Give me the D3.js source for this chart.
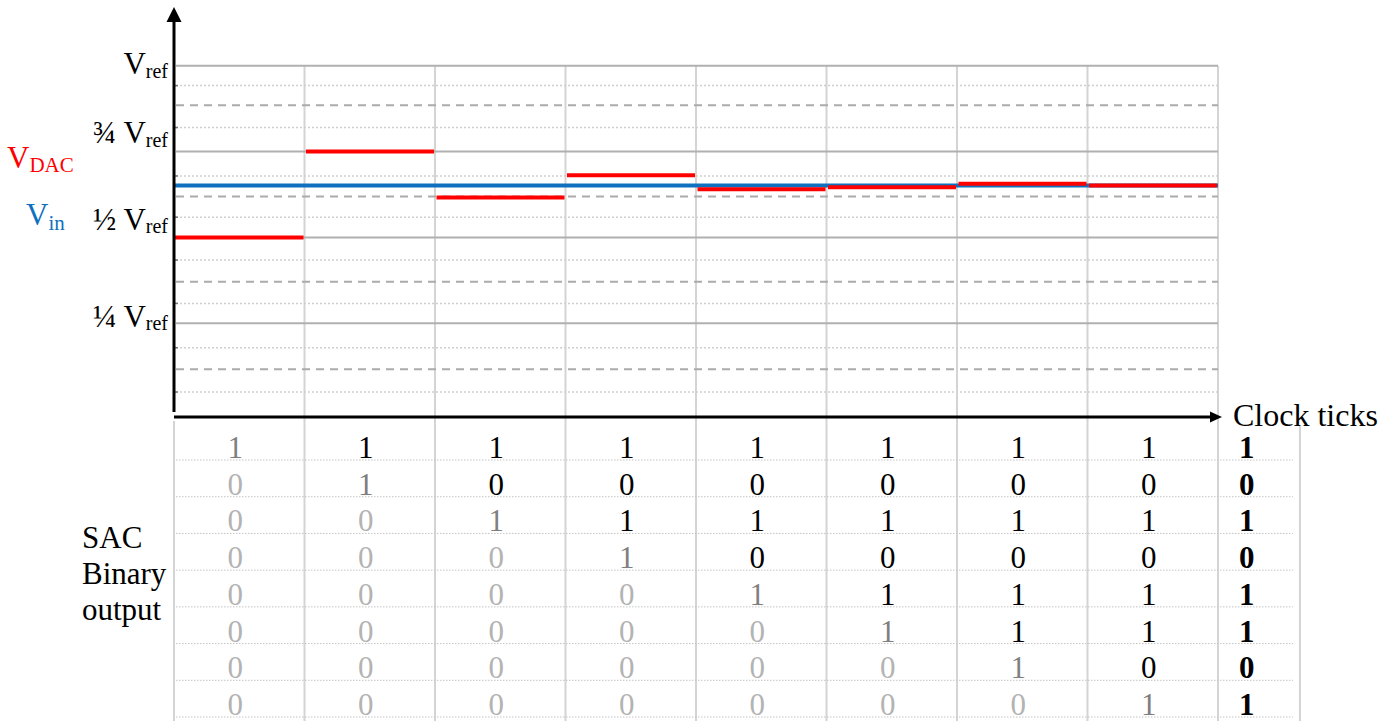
<!DOCTYPE html>
<html>
<head>
<meta charset="utf-8">
<script src="https://cdn.jsdelivr.net/npm/d3@7"></script>
<style>
  html, body { margin: 0; padding: 0; background: #fff; }
  svg { display: block; font-family: "Liberation Serif", "Times New Roman", serif; }
</style>
</head>
<body>
<svg id="chart" width="1388" height="721"></svg>
<script>
// ---------- data ----------
const clockTicks = [1, 2, 3, 4, 5, 6, 7, 8];
const vinLevel = 0.651;                       // V_in (fraction of Vref)
const vdacLevels = [0.5, 0.75, 0.616, 0.681, 0.640, 0.646, 0.656, 0.651]; // V_DAC per clock tick
const majorLevels = [1, 0.75, 0.5, 0.25];
const majorFractions = ["", "\u00BE ", "\u00BD ", "\u00BC "];
const dashedLevels = [0.885, 0.619, 0.371, 0.116];
const dottedLevels = [0.942, 0.820, 0.679, 0.559, 0.434, 0.308, 0.179, 0.050];
// bits shown after each clock tick (MSB first)
const bitsCol1 = [1, 0, 0, 0, 0, 0, 0, 0];
const bitsCol2 = [1, 1, 0, 0, 0, 0, 0, 0];
const bitsCol3 = [1, 0, 1, 0, 0, 0, 0, 0];
const bitsCol4 = [1, 0, 1, 1, 0, 0, 0, 0];
const bitsCol5 = [1, 0, 1, 0, 1, 0, 0, 0];
const bitsCol6 = [1, 0, 1, 0, 1, 1, 0, 0];
const bitsCol7 = [1, 0, 1, 0, 1, 1, 1, 0];
const bitsCol8 = [1, 0, 1, 0, 1, 1, 0, 1];
const finalBits = [1, 0, 1, 0, 1, 1, 0, 1];
const bitColumns = [bitsCol1, bitsCol2, bitsCol3, bitsCol4, bitsCol5, bitsCol6, bitsCol7, bitsCol8];
const bitRows = [1, 2, 3, 4, 5, 6, 7, 8];

// ---------- layout ----------
const svg = d3.select("#chart");
const x = d3.scaleLinear().domain([0, 8]).range([174, 1218]);
const y = d3.scaleLinear().domain([0, 1]).range([409.2, 65.7]);
const rowY = d3.scaleLinear().domain([1, 8]).range([460, 717]);
const labelDy = [8.3, -8.3, -7.5, 3.4];

const RED = "#FF0000", BLUE = "#0F70C0";
const FONT = 31, SUB = 20;

// ---------- vertical grid ----------
const g = svg.append("g");
g.selectAll(".vgrid").data(clockTicks).join("line")
  .attr("x1", d => x(d)).attr("x2", d => x(d))
  .attr("y1", y(1)).attr("y2", 721)
  .attr("stroke", "#d4d4d4").attr("stroke-width", 2);
g.append("line").attr("x1", x(0)).attr("x2", x(0)).attr("y1", 421).attr("y2", 721)
  .attr("stroke", "#d4d4d4").attr("stroke-width", 2);
g.append("line").attr("x1", x(8.628)).attr("x2", x(8.628)).attr("y1", 426).attr("y2", 721)
  .attr("stroke", "#d4d4d4").attr("stroke-width", 2);

// ---------- horizontal grid ----------
g.selectAll(".dot").data(dottedLevels).join("line")
  .attr("x1", x(0) + 2).attr("x2", x(8))
  .attr("y1", d => y(d)).attr("y2", d => y(d))
  .attr("stroke", "#cfcfcf").attr("stroke-width", 1.5).attr("stroke-dasharray", "2,2");
g.selectAll(".dot-tick").data(dottedLevels).join("line")
  .attr("x1", x(0)).attr("x2", x(0) + 4)
  .attr("y1", d => y(d)).attr("y2", d => y(d))
  .attr("stroke", "#777").attr("stroke-width", 1.5);
g.selectAll(".dash").data(dashedLevels).join("line")
  .attr("x1", x(0) + 2).attr("x2", x(8))
  .attr("y1", d => y(d)).attr("y2", d => y(d))
  .attr("stroke", "#ababab").attr("stroke-width", 2).attr("stroke-dasharray", "8,6");
g.selectAll(".major").data(majorLevels).join("line")
  .attr("x1", x(0) + 2).attr("x2", x(8))
  .attr("y1", d => y(d)).attr("y2", d => y(d))
  .attr("stroke", "#b0b0b0").attr("stroke-width", 2);

// table row lines
g.selectAll(".row").data(bitRows).join("line")
  .attr("x1", x(0) + 2).attr("x2", 1293)
  .attr("y1", d => rowY(d)).attr("y2", d => rowY(d))
  .attr("stroke", "#c4c4c4").attr("stroke-width", 1).attr("stroke-dasharray", "1.5,1.5");

// ---------- signals ----------
svg.append("line")
  .attr("x1", x(0)).attr("x2", x(8))
  .attr("y1", y(vinLevel)).attr("y2", y(vinLevel))
  .attr("stroke", BLUE).attr("stroke-width", 4);
svg.selectAll(".vdac").data(vdacLevels).join("line")
  .attr("x1", (d, i) => x(i) + (i === 0 ? 0 : 1.5))
  .attr("x2", (d, i) => x(i + 1) - 1)
  .attr("y1", d => y(d)).attr("y2", d => y(d))
  .attr("stroke", RED).attr("stroke-width", 4);

// ---------- axes ----------
svg.append("line").attr("x1", x(0)).attr("x2", x(0)).attr("y1", 412).attr("y2", 20)
  .attr("stroke", "#000").attr("stroke-width", 3);
svg.append("path").attr("d", `M${x(0) - 7.5},22 L${x(0)},7 L${x(0) + 7.5},22 Z`).attr("fill", "#000");
svg.append("line").attr("x1", x(0)).attr("x2", 1212).attr("y1", 417).attr("y2", 417)
  .attr("stroke", "#000").attr("stroke-width", 3);
svg.append("path").attr("d", `M1210,411.5 L1222,417 L1210,422.5 Z`).attr("fill", "#000");

svg.append("text").attr("x", 1233).attr("y", 426).attr("font-size", 32)
  .attr("fill", "#000").text("Clock ticks");

// ---------- y labels ----------
majorLevels.forEach((v, i) => {
  const t = svg.append("text").attr("x", 168).attr("y", y(v) + labelDy[i])
    .attr("text-anchor", "end").attr("font-size", FONT).attr("fill", "#000");
  t.append("tspan").text(majorFractions[i] + "V");
  t.append("tspan").attr("font-size", SUB).attr("dy", 3.5).text("ref");
});

const vd = svg.append("text").attr("x", 7).attr("y", 168).attr("font-size", FONT).attr("fill", RED);
vd.append("tspan").text("V");
vd.append("tspan").attr("font-size", 21).attr("dy", 4).text("DAC");
const vi = svg.append("text").attr("x", 26).attr("y", 225).attr("font-size", FONT).attr("fill", BLUE);
vi.append("tspan").text("V");
vi.append("tspan").attr("font-size", 21).attr("dy", 5).text("in");

// ---------- SAC table ----------
const lbl = svg.append("text").attr("font-size", FONT).attr("fill", "#000");
["SAC", "Binary", "output"].forEach((s, i) => {
  lbl.append("tspan").attr("x", 82).attr("y", 548 + i * 36).text(s);
});

bitColumns.forEach((col, c) => {
  svg.selectAll(null).data(col).join("text")
    .attr("x", x(c + 0.5) - 4)
    .attr("y", (d, r) => rowY(r + 1) - 2)
    .attr("text-anchor", "middle").attr("font-size", FONT)
    .attr("fill", (d, r) => r < c ? "#000" : (r === c ? "#7f7f7f" : "#b3b3b3"))
    .text(d => d);
});
svg.selectAll(".final").data(finalBits).join("text")
  .attr("x", x(8.22))
  .attr("y", (d, r) => rowY(r + 1) - 2)
  .attr("text-anchor", "middle").attr("font-size", FONT).attr("font-weight", "bold")
  .attr("fill", "#000").text(d => d);
</script>
</body>
</html>
